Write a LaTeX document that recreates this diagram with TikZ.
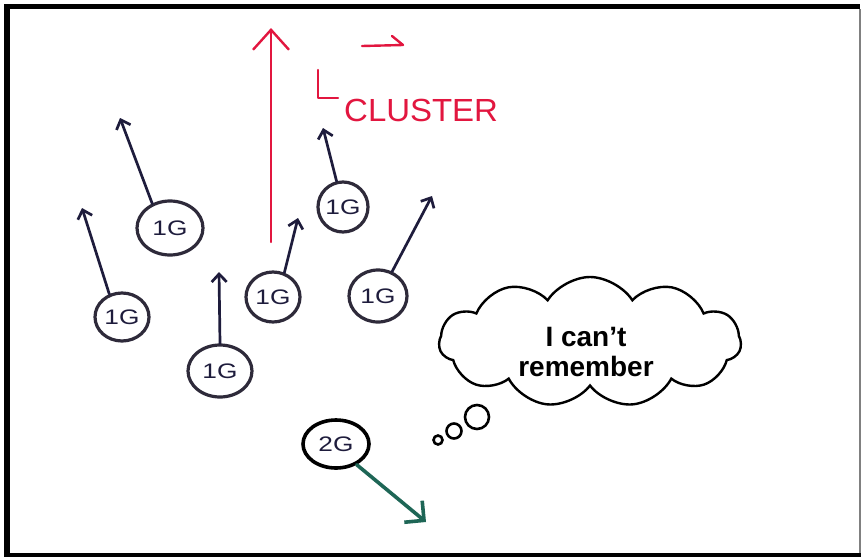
\documentclass[tikz,border=0pt]{standalone}
\usepackage{fontspec}
\setmainfont{Liberation Sans}
\usetikzlibrary{arrows.meta,shapes.geometric,shapes.symbols}
\definecolor{ink}{HTML}{1E1C3C}
\definecolor{ring}{HTML}{2E2A3A}
\definecolor{redink}{HTML}{E2163F}
\definecolor{greenink}{HTML}{1E6656}
\newcommand{\hw}[1]{\scalebox{1.25}[1]{#1}}
\begin{document}
\begin{tikzpicture}[x=1pt,y=-1pt,
  gnode/.style={draw=ring, ellipse, line width=3.2pt, inner sep=0pt, text=ink,
    font=\fontsize{21}{22}\selectfont},
  vec/.style={draw=ink, line width=2.7pt, line cap=round,
    -{Straight Barb[length=8pt,width=15pt]}},
  redvec/.style={draw=redink, line width=2.4pt, line cap=round,
    -{Straight Barb[length=20pt,width=36pt]}},
  greenvec/.style={draw=greenink, line width=3.6pt, line cap=round,
    -{Straight Barb[length=14pt,width=28pt]}},
  bubble/.style={draw=black, line width=2.6pt, circle, inner sep=0pt}]
\useasboundingbox (0,0) rectangle (861,557);
\fill[white] (0,0) rectangle (861,557);
% frame
\fill[black] (4,4) rectangle (860,9);
\fill[black] (4,4) rectangle (10,557);
\fill[black] (4,553) rectangle (861,557);
\fill[gray] (859,9) rectangle (860.5,553);
% red cluster vector
\coordinate (rbase) at (271,242);
\coordinate (rtip) at (271,28);
\draw[redvec] (rbase) -- (rtip);
\draw[redink, line width=2.4pt, line cap=round, line join=round]
  (362,46) -- (403,45) -- (392,36);
\draw[redink, line width=2.4pt, line cap=round, line join=round]
  (318,70) -- (318,98) -- (338,98);
\node[text=redink, font=\fontsize{32}{33}\selectfont, anchor=base west, inner sep=0pt]
  (lbl) at (344,121) {\scalebox{1.03}[1]{CLUSTER}};
% 1G nodes
\node[gnode, minimum width=66pt, minimum height=54pt] (n1) at (170,228) {\hw{1G}};
\node[gnode, minimum width=54pt, minimum height=48pt] (n2) at (122,317) {\hw{1G}};
\node[gnode, minimum width=64pt, minimum height=52pt] (n3) at (220,371) {\hw{1G}};
\node[gnode, minimum width=54pt, minimum height=50pt] (n4) at (273,297) {\hw{1G}};
\node[gnode, minimum width=50pt, minimum height=50pt] (n5) at (343,207) {\hw{1G}};
\node[gnode, minimum width=58pt, minimum height=52pt] (n6) at (378,296) {\hw{1G}};
\node[gnode, draw=black, line width=3.6pt, minimum width=66pt, minimum height=48pt] (g2) at (336,444) {\hw{2G}};
% tips
\coordinate (t1) at (120,118);
\coordinate (t2) at (82,208);
\coordinate (t3) at (219,272);
\coordinate (t4) at (298,218);
\coordinate (t5) at (323,128);
\coordinate (t6) at (432,196);
\coordinate (tg) at (426,522);
\draw[vec] (n1.126) -- (t1);
\draw[vec] (n2.119) -- (t2);
\draw[vec] (n3.90) -- (t3);
\draw[vec] (n4.65) -- (t4);
\draw[vec] (n5.104) -- (t5);
\draw[vec] (n6.60) -- (t6);
\draw[greenvec] (g2.-45) -- (tg);
% thought cloud
\node[cloud, draw=black, line width=2.4pt, fill=white, cloud puffs=11, cloud puff arc=115,
  aspect=2.4, minimum width=302pt, minimum height=130pt, inner sep=0pt] (cloud) at (590,342) {};
\node[align=center, inner sep=0pt, font=\bfseries\fontsize{28}{30}\selectfont] (ctext)
  at (586,352) {I can’t\\remember};
\node[bubble, minimum size=24pt] (b3) at (477,417) {};
\node[bubble, minimum size=15pt] (b2) at (454,431) {};
\node[bubble, minimum size=9pt] (b1) at (438,440) {};
\end{tikzpicture}
\end{document}
